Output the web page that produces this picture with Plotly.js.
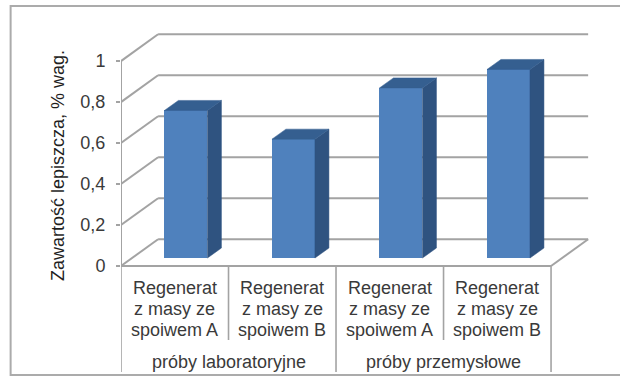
<!DOCTYPE html>
<html>
<head>
<meta charset="utf-8">
<script src="https://cdn.plot.ly/plotly-3.0.1.min.js"></script>
<style>
html,body{margin:0;padding:0;background:#fff;overflow:hidden}
#chart{width:620px;height:376px}
</style>
</head>
<body>
<div id="chart"></div>
<script>
// Binder content per sample, grouped by sample origin
const categoryLines = ['Regenerat', 'z masy ze'];
const binders = ['spoiwem A', 'spoiwem B', 'spoiwem A', 'spoiwem B'];
const groups = ['próby laboratoryjne', 'próby przemysłowe'];
const values = [0.72, 0.58, 0.83, 0.92];
const yTicks = [0, 0.2, 0.4, 0.6, 0.8, 1];
const yTickText = ['0', '0,2', '0,4', '0,6', '0,8', '1'];
const yTitle = 'Zawartość lepiszcza, % wag.';

const GRID = '#a3a3a3';
const FRONT = '#4f81bd';
const SIDE = '#2f5380';
const TOP = '#355f90';
const TEXT = '#3a3a3a';
const FONT = 'Liberation Sans, Arial, sans-serif';

// Oblique projection of the pseudo-3D box, in axis units
const wallDx = 0.345, wallDy = 0.131;
const barShiftX = 0.104, barShiftY = 0.039;
const barDepthX = 0.13, barDepthY = 0.049;
const barWidth = 0.4;
const xLeft = -0.5, xRight = 3.5;

// Back wall gridlines with their diagonal links to the value axis
const gridShapes = [];
const line = (x0, y0, x1, y1) => ({
  type: 'line', xref: 'x', yref: 'y', layer: 'below',
  x0, y0, x1, y1, line: {color: GRID, width: 2}
});
yTicks.forEach(v => {
  gridShapes.push(line(xLeft, v, xLeft + wallDx, v + wallDy));
  gridShapes.push(line(xLeft + wallDx, v + wallDy, xRight + wallDx, v + wallDy));
});
gridShapes.push(line(xRight, 0, xRight + wallDx, wallDy));

// Outer frame of the figure, open on the right
const pw = 468.5, ph = 339;
const px = p => (p - 120.5) / pw;
const py = p => (372 - p) / ph;
const frame = {
  type: 'rect', xref: 'paper', yref: 'paper', layer: 'below',
  x0: px(10), x1: px(640), y0: py(375), y1: py(6),
  line: {color: '#ababab', width: 2}
};

const poly = (xs, ys, color) => ({
  type: 'scatter', mode: 'lines', x: xs, y: ys, fill: 'toself',
  fillcolor: color, line: {color: color, width: 0.5},
  hoverinfo: 'skip', showlegend: false
});

const traces = [{
  type: 'bar',
  x: values.map((_, i) => i + barShiftX),
  y: values,
  base: values.map(() => barShiftY),
  width: barWidth,
  marker: {color: FRONT, line: {width: 0}},
  hoverinfo: 'y', showlegend: false
}];

values.forEach((v, i) => {
  const l = i + barShiftX - barWidth / 2;
  const r = l + barWidth;
  const b = barShiftY, t = barShiftY + v;
  traces.push(poly(
    [r, r + barDepthX, r + barDepthX, r, r],
    [b, b + barDepthY, t + barDepthY, t, b], SIDE));
  traces.push(poly(
    [l, l + barDepthX, r + barDepthX, r, l],
    [t, t + barDepthY, t + barDepthY, t, t], TOP));
});

// Value axis, floor edge and the category table dividers
const yBottomTable = -0.517, yBottomCats = -0.361;
const rule = (xs, ys, w) => ({
  type: 'scatter', mode: 'lines', x: xs, y: ys, cliponaxis: false,
  line: {color: GRID, width: w}, hoverinfo: 'skip', showlegend: false
});
traces.push(rule([xLeft, xLeft], [1, 0], 2));
traces.push(rule([xLeft, xRight], [0, 0], 2));
[xLeft, 1.5, xRight].forEach(x => traces.push(rule([x, x], [0, yBottomTable], 1.6)));
[0.5, 2.5].forEach(x => traces.push(rule([x, x], [0, yBottomCats], 1.6)));

// Category labels, stacked line by line for tight leading
const annotations = [];
const label = (x, text, pxY) => annotations.push({
  xref: 'x', yref: 'paper', x, y: py(pxY), text, showarrow: false,
  xanchor: 'center', yanchor: 'middle',
  font: {family: FONT, size: 18, color: TEXT}
});
binders.forEach((b, i) => {
  label(i, categoryLines[0], 288);
  label(i, categoryLines[1], 309);
  label(i, b, 330);
});
groups.forEach((g, i) => label(0.5 + 2 * i, g, 361.5));

// Axis title, centred on the value range rather than the whole plot area
annotations.push({
  xref: 'paper', yref: 'paper', x: px(57), y: py(165.5), text: yTitle,
  textangle: -90, showarrow: false, xanchor: 'center', yanchor: 'middle',
  font: {family: FONT, size: 18, color: '#1f1f1f'}
});

const layout = {
  width: 620, height: 376,
  margin: {l: 120.5, r: 31, t: 33, b: 4},
  paper_bgcolor: 'rgba(0,0,0,0)',
  plot_bgcolor: 'rgba(0,0,0,0)',
  showlegend: false,
  bargap: 0,
  separators: ', ',
  xaxis: {
    type: 'linear', range: [xLeft, xRight + 0.353],
    showgrid: false, zeroline: false, showline: false,
    showticklabels: false, ticks: ''
  },
  yaxis: {
    range: [yBottomTable, 1.137],
    tickmode: 'array', tickvals: yTicks, ticktext: yTickText,
    ticks: 'outside', ticklen: 4, tickwidth: 1.5, tickcolor: GRID,
    ticklabelstandoff: 7,
    tickfont: {family: FONT, size: 18, color: TEXT},
    showgrid: false, zeroline: false, showline: false
  },
  shapes: [frame].concat(gridShapes),
  annotations
};

Plotly.newPlot('chart', traces, layout, {displayModeBar: false, staticPlot: true});
</script>
</body>
</html>
